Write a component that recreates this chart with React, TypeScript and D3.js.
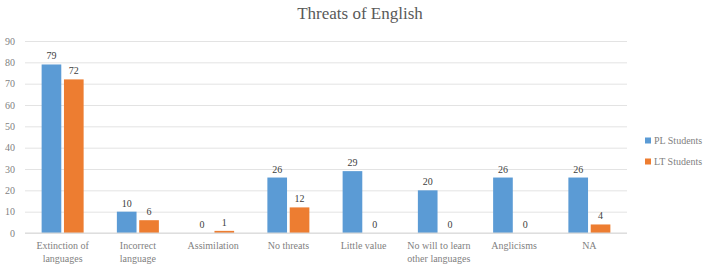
import { useEffect, useRef } from 'react';
import * as d3 from 'd3';

const categories = [
  ['Extinction of', 'languages'],
  ['Incorrect', 'language'],
  ['Assimilation'],
  ['No threats'],
  ['Little value'],
  ['No will to learn', 'other languages'],
  ['Anglicisms'],
  ['NA'],
];
const seriesNames = ['PL Students', 'LT Students'];
const plValues = [79, 10, 0, 26, 29, 20, 26, 26];
const ltValues = [72, 6, 1, 12, 0, 0, 0, 4];
const yTicks = [0, 10, 20, 30, 40, 50, 60, 70, 80, 90];
const colors = ['#5b9bd5', '#ed7d31'];

const App = () => {
  const ref = useRef<SVGSVGElement>(null);

  useEffect(() => {
    const width = 720;
    const height = 272;
    const margin = { top: 41, right: 93, bottom: 39, left: 25 };
    const font = "'Liberation Serif', 'Times New Roman', serif";
    const textColor = '#7f7f7f';

    const svg = d3.select(ref.current);
    svg.selectAll('*').remove();
    svg.attr('width', width).attr('height', height);

    const x = d3
      .scaleBand()
      .domain(categories.map((_, i) => String(i)))
      .range([margin.left, width - margin.right]);

    const x1 = d3
      .scaleBand()
      .domain(seriesNames)
      .range([x.bandwidth() / 2 - 21, x.bandwidth() / 2 + 21])
      .paddingInner(0.12);

    const y = d3
      .scaleLinear()
      .domain([0, 90])
      .range([height - margin.bottom, margin.top]);

    svg
      .append('text')
      .attr('x', 360)
      .attr('y', 19)
      .attr('text-anchor', 'middle')
      .attr('font-family', font)
      .attr('font-size', 17)
      .attr('fill', '#595959')
      .text('Threats of English');

    // grid
    const yAxis = svg
      .append('g')
      .attr('transform', `translate(${margin.left},0)`)
      .call(
        d3
          .axisLeft(y)
          .tickValues(yTicks)
          .tickSize(-(width - margin.left - margin.right))
          .tickPadding(10)
      );
    yAxis.select('.domain').remove();
    yAxis.selectAll('line').attr('stroke', '#e3e3e3');
    yAxis
      .selectAll('text')
      .attr('font-family', font)
      .attr('font-size', 10)
      .attr('fill', textColor);

    const data = [plValues, ltValues];
    const groups = svg
      .append('g')
      .selectAll('g')
      .data(categories)
      .enter()
      .append('g')
      .attr('transform', (_, i) => `translate(${x(String(i))},0)`);

    groups.each(function (_, i) {
      const g = d3.select(this);
      seriesNames.forEach((s, k) => {
        const v = data[k][i];
        g.append('rect')
          .attr('x', x1(s)!)
          .attr('y', y(v))
          .attr('width', x1.bandwidth())
          .attr('height', y(0) - y(v))
          .attr('fill', colors[k]);
        g.append('text')
          .attr('x', x1(s)! + x1.bandwidth() / 2)
          .attr('y', y(v) - 5)
          .attr('text-anchor', 'middle')
          .attr('font-family', font)
          .attr('font-size', 10)
          .attr('fill', '#404040')
          .text(v);
      });
      const lab = g
        .append('text')
        .attr('x', x.bandwidth() / 2)
        .attr('y', y(0) + 16)
        .attr('text-anchor', 'middle')
        .attr('font-family', font)
        .attr('font-size', 10)
        .attr('fill', textColor);
      categories[i].forEach((line, j) => {
        lab
          .append('tspan')
          .attr('x', x.bandwidth() / 2)
          .attr('dy', j === 0 ? 0 : 13)
          .text(line);
      });
    });

    // x baseline
    svg
      .append('line')
      .attr('x1', margin.left)
      .attr('x2', width - margin.right)
      .attr('y1', y(0))
      .attr('y2', y(0))
      .attr('stroke', '#d9d9d9');

    const legend = svg
      .append('g')
      .selectAll('g')
      .data(seriesNames)
      .enter()
      .append('g')
      .attr('transform', (_, i) => `translate(645,${141 + i * 21})`);
    legend
      .append('rect')
      .attr('x', 0)
      .attr('y', -3.5)
      .attr('width', 6)
      .attr('height', 6)
      .attr('fill', (_, i) => colors[i]);
    legend
      .append('text')
      .attr('x', 9)
      .attr('y', 3)
      .attr('font-family', font)
      .attr('font-size', 10)
      .attr('fill', textColor)
      .text((d) => d);
  }, []);

  return <svg ref={ref} style={{ position: 'absolute', left: 0, top: 0 }}></svg>;
};

export default App;
